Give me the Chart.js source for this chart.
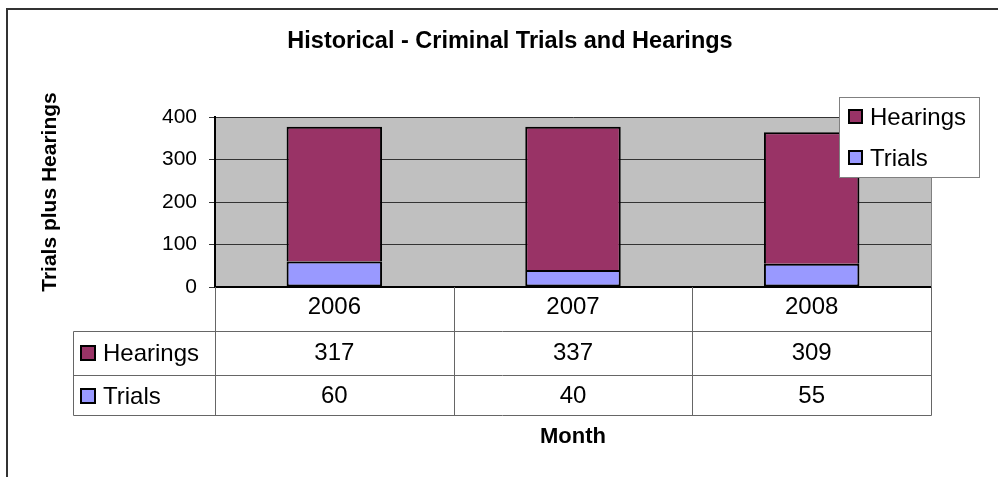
<!DOCTYPE html>
<html>
<head>
<meta charset="utf-8">
<script src="https://cdn.jsdelivr.net/npm/chart.js@4.4.0/dist/chart.umd.min.js"></script>
<style>
  body { margin: 0; background: #fff; }
  canvas { display: block; }
</style>
</head>
<body>
<canvas id="myChart" width="999" height="477"></canvas>
<script>
// data
var categories = ['2006', '2007', '2008'];
var seriesNames = ['Trials', 'Hearings'];
var trials = [60, 40, 55];
var hearings = [317, 337, 309];
var yMax = 400;
var yStep = 100;

var FONT = "'Liberation Sans', Arial, sans-serif";
var colHearings = '#993366';
var colTrials = '#9999FF';

// excel-ish frame, title, legend and data table
var excelBits = {
  id: 'excelBits',
  beforeDraw: function(chart) {
    var ctx = chart.ctx, a = chart.chartArea;
    ctx.save();
    ctx.fillStyle = '#fff';
    ctx.fillRect(0, 0, chart.width, chart.height);
    ctx.fillStyle = '#C0C0C0';
    ctx.fillRect(a.left, a.top, a.right - a.left, a.bottom - a.top);
    ctx.restore();
  },
  afterDraw: function(chart) {
    var ctx = chart.ctx, a = chart.chartArea;
    ctx.save();

    // plot area right border
    ctx.strokeStyle = '#808080';
    ctx.lineWidth = 1;
    ctx.beginPath();
    ctx.moveTo(Math.round(a.right) + 0.5, a.top);
    ctx.lineTo(Math.round(a.right) + 0.5, a.bottom);
    ctx.stroke();

    // outer frame (only top and left edges show)
    ctx.strokeStyle = '#333';
    ctx.lineWidth = 2;
    ctx.beginPath();
    ctx.moveTo(7, 477);
    ctx.lineTo(7, 9);
    ctx.lineTo(998, 9);
    ctx.stroke();

    // title
    ctx.fillStyle = '#000';
    ctx.textAlign = 'center';
    ctx.textBaseline = 'middle';
    ctx.font = 'bold 23.5px ' + FONT;
    ctx.fillText('Historical - Criminal Trials and Hearings', 510, 42);

    // x title
    ctx.font = 'bold 22px ' + FONT;
    ctx.fillText('Month', 573, 437);

    // y title
    ctx.save();
    ctx.translate(50, 192);
    ctx.rotate(-Math.PI / 2);
    ctx.font = 'bold 21px ' + FONT;
    ctx.fillText('Trials plus Hearings', 0, 0);
    ctx.restore();

    // legend (reversed order like excel)
    ctx.fillStyle = '#fff';
    ctx.fillRect(839, 97, 140, 80);
    ctx.strokeStyle = '#808080';
    ctx.lineWidth = 1;
    ctx.strokeRect(839.5, 97.5, 140, 80);
    var legendRows = [
      { name: seriesNames[1], color: colHearings, y: 117 },
      { name: seriesNames[0], color: colTrials, y: 158 }
    ];
    ctx.font = '24px ' + FONT;
    ctx.textAlign = 'left';
    legendRows.forEach(function(r) {
      ctx.fillStyle = r.color;
      ctx.fillRect(849, r.y - 7, 13, 13);
      ctx.strokeStyle = '#000';
      ctx.lineWidth = 2;
      ctx.strokeRect(849, r.y - 7, 13, 13);
      ctx.fillStyle = '#000';
      ctx.fillText(r.name, 870, r.y + 1);
    });

    // data table
    var n = categories.length;
    var cw = (a.right - a.left) / n;
    var tLeft = 73.5;
    var rowLines = [331.5, 375.5, 415.5];
    ctx.strokeStyle = '#666';
    ctx.lineWidth = 1;
    ctx.beginPath();
    for (var i = 0; i <= n; i++) {
      var xx = Math.round(a.left + i * cw) + 0.5;
      ctx.moveTo(xx, a.bottom);
      ctx.lineTo(xx, rowLines[2]);
    }
    ctx.moveTo(tLeft, rowLines[0]);
    ctx.lineTo(tLeft, rowLines[2]);
    rowLines.forEach(function(y) {
      ctx.moveTo(tLeft, y);
      ctx.lineTo(Math.round(a.right) + 0.5, y);
    });
    ctx.stroke();

    var tableRows = [
      { name: seriesNames[1], color: colHearings, vals: hearings, y: 353 },
      { name: seriesNames[0], color: colTrials, vals: trials, y: 396 }
    ];
    ctx.font = '24px ' + FONT;
    tableRows.forEach(function(r) {
      ctx.fillStyle = r.color;
      ctx.fillRect(81, r.y - 7, 14, 14);
      ctx.strokeStyle = '#000';
      ctx.lineWidth = 2;
      ctx.strokeRect(81, r.y - 7, 14, 14);
      ctx.fillStyle = '#000';
      ctx.textAlign = 'left';
      ctx.fillText(r.name, 103, r.y + 1);
      ctx.textAlign = 'center';
      r.vals.forEach(function(v, j) {
        ctx.fillText(String(v), chart.scales.x.getPixelForValue(j), r.y);
      });
    });

    ctx.restore();
  }
};

var ctx = document.getElementById('myChart');
var chart = new Chart(ctx, {
  type: 'bar',
  data: {
    labels: categories,
    datasets: [{
      label: seriesNames[0],
      data: trials,
      backgroundColor: colTrials,
      borderColor: '#000',
      borderWidth: 2,
      borderSkipped: false
    }, {
      label: seriesNames[1],
      data: hearings,
      backgroundColor: colHearings,
      borderColor: '#000',
      borderWidth: { top: 2, left: 2, right: 2, bottom: 0 },
      borderSkipped: false
    }]
  },
  options: {
    responsive: false,
    animation: false,
    devicePixelRatio: 1,
    layout: { padding: { top: 117, right: 68, left: 0, bottom: 0 } },
    datasets: { bar: { barPercentage: 0.4, categoryPercentage: 1 } },
    plugins: {
      legend: { display: false },
      title: { display: false },
      tooltip: { enabled: false }
    },
    scales: {
      x: {
        stacked: true,
        grid: { display: false, drawTicks: false },
        border: { display: true, color: '#000', width: 2 },
        ticks: { color: '#000', font: { family: FONT, size: 24 }, padding: 6, maxRotation: 0 },
        afterFit: function(s) { s.height = 190; }
      },
      y: {
        stacked: true,
        min: 0,
        max: yMax,
        grid: { color: '#333', lineWidth: 1, tickLength: 6, tickColor: '#333' },
        border: { display: true, color: '#000', width: 2 },
        ticks: { stepSize: yStep, color: '#000', font: { family: FONT, size: 21 }, padding: 12 },
        afterFit: function(s) { s.width = 215; }
      }
    }
  },
  plugins: [excelBits]
});
</script>
</body>
</html>
